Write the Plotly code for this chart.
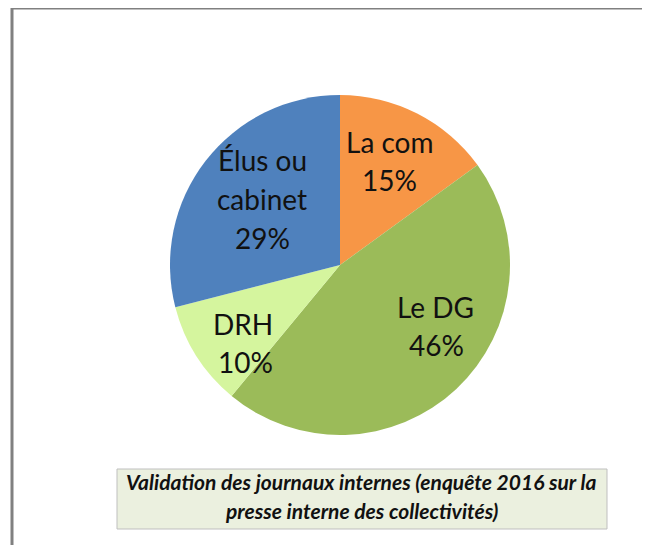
import plotly.graph_objects as go

# The page body adds an 8px margin, so the figure is drawn 8px in and 8px down.
OFF = 8
W, H = 650 - OFF, 545 - OFF
categories = ["La com", "Le DG", "DRH", "Élus ou cabinet"]
values = [15, 46, 10, 29]
colors = ["#F79646", "#9BBB59", "#D5F59E", "#4F81BD"]
title_lines = ["Validation des journaux internes (enquête 2016 sur la",
               "presse interne des collectivités)"]

def px(x): return (x - OFF) / W
def py(y): return 1 - (y - OFF) / H

fig = go.Figure(go.Pie(
    labels=categories, values=values, sort=False, direction="clockwise",
    rotation=0, textinfo="none", hoverinfo="label+percent",
    marker=dict(colors=colors, line=dict(width=0)),
    domain=dict(x=[px(170), px(510)], y=[py(435), py(95)]),
    showlegend=False,
))

font = dict(family="Lato, Calibri, sans-serif", size=28, color="#111111")
label_lines = [
    ("La com", 390, 142), ("15%", 390, 180),
    ("Élus ou", 262, 160), ("cabinet", 262, 199), ("29%", 262, 238),
    ("Le DG", 435, 307), ("46%", 436, 345),
    ("DRH", 243, 324), ("10%", 245, 362),
]
anns = []
for t, x, y in label_lines:
    anns.append(dict(text=t, x=px(x), y=py(y), xref="paper", yref="paper",
                     showarrow=False, xanchor="center", yanchor="middle", font=font))

tfont = dict(family="Lato, Calibri, sans-serif", size=21, color="#111111")
for t, y in zip(title_lines, [481, 510]):
    anns.append(dict(text="<b><i>" + t + "</i></b>", x=px(361), y=py(y), xref="paper", yref="paper",
                     showarrow=False, xanchor="center", yanchor="middle", font=tfont))

shapes = [
    dict(type="line", xref="paper", yref="paper", x0=px(11), x1=px(660), y0=py(8), y1=py(8),
         line=dict(color="#808080", width=3)),
    dict(type="line", xref="paper", yref="paper", x0=px(12), x1=px(12), y0=py(7), y1=py(560),
         line=dict(color="#808080", width=3)),
    dict(type="rect", xref="paper", yref="paper", x0=px(117), x1=px(607), y0=py(469), y1=py(529),
         fillcolor="#EBF0DF", line=dict(color="#BFBFBF", width=1), layer="below"),
]

fig.update_layout(width=W, height=H, margin=dict(l=0, r=0, t=0, b=0),
                  paper_bgcolor="white", plot_bgcolor="white",
                  annotations=anns, shapes=shapes)
fig.write_html("out.html")
